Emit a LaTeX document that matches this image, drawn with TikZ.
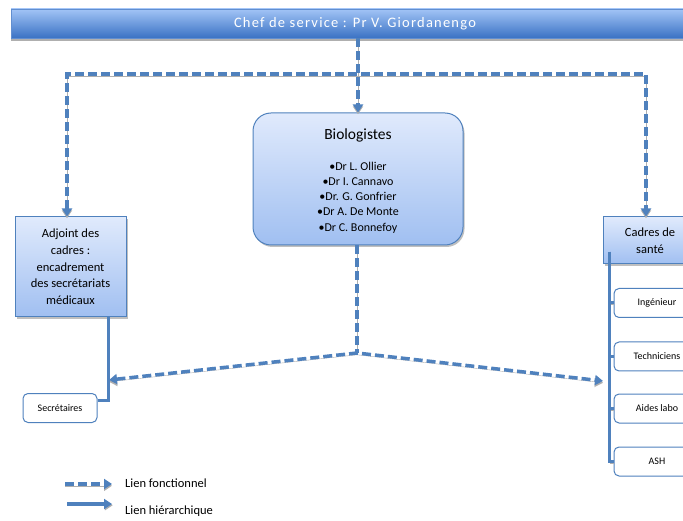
\documentclass[tikz,border=0pt]{standalone}
\usepackage{fontspec}
\setmainfont{Carlito}
\usetikzlibrary{arrows.meta,shadows}
\definecolor{lineblue}{RGB}{79,129,189}
\definecolor{boxtop}{RGB}{224,234,252}
\definecolor{boxbot}{RGB}{160,191,241}
\definecolor{bartop}{RGB}{162,196,246}
\definecolor{barbot}{RGB}{58,114,196}
\definecolor{shadowgray}{RGB}{175,175,175}
\tikzset{
  tip/.style={-{Triangle[length=8pt,width=10pt]}},
  fl/.style={draw=lineblue, line width=3.5pt, dash pattern=on 9pt off 4pt,
     preaction={draw=shadowgray, transform canvas={yshift=-1.8pt}}},
  hl/.style={draw=lineblue, line width=3pt,
     preaction={draw=shadowgray, transform canvas={xshift=0.8pt,yshift=-1.2pt}}},
  bar/.style={rectangle, minimum width=688pt, minimum height=29pt, inner sep=0pt,
     top color=bartop, bottom color=barbot, draw=barbot!80, line width=0.6pt,
     text=white, font=\fontsize{14.5}{16}\selectfont\addfontfeature{LetterSpace=8.5},
     drop shadow={shadow xshift=0pt, shadow yshift=-3pt, fill=shadowgray, opacity=1}},
  gbox/.style={rectangle, inner sep=0pt, top color=boxtop, bottom color=boxbot,
     draw=lineblue, line width=1pt, align=center,
     drop shadow={shadow xshift=1.5pt, shadow yshift=-2pt, fill=shadowgray, opacity=0.8}},
  wbox/.style={rectangle, rounded corners=5pt, inner sep=0pt, fill=white,
     draw=lineblue, line width=1pt, minimum height=29pt,
     font=\fontsize{10}{12}\selectfont},
  lbl/.style={inner sep=0pt, font=\fontsize{12.5}{14}\selectfont}
}
\begin{document}
\begin{tikzpicture}[x=1pt,y=-1pt]
\useasboundingbox (0,0) rectangle (683,521);

% title bar
\node[bar] (chef) at (355,23.5) {Chef de service : Pr V. Giordanengo};

% boxes
\node[gbox, rounded corners=18pt, minimum width=210pt, minimum height=132pt] (bio) at (358,179) {};
\node[inner sep=0pt, font=\fontsize{15.5}{17}\selectfont] (biotitle) at (358,135) {Biologistes};
\node[inner sep=0pt, align=center, font=\fontsize{12}{15.25}\selectfont] (biolist) at (358,197.5)
  {•Dr L. Ollier\\•Dr I. Cannavo\\•Dr. G. Gonfrier\\•Dr A. De Monte\\•Dr C. Bonnefoy};

\node[gbox, minimum width=111pt, minimum height=100pt, font=\fontsize{12.5}{16.7}\selectfont] (adj) at (70.5,267)
  {Adjoint des\\cadres :\\encadrement\\des secrétariats\\médicaux};

\node[gbox, minimum width=94pt, minimum height=47pt, font=\fontsize{12.5}{17}\selectfont] (cad) at (650,240.5)
  {Cadres de\\santé};

\node[wbox, minimum width=74pt] (sec) at (60,408) {Secrétaires};

\node[wbox, minimum width=86pt] (ing) at (657,303) {Ingénieur};
\node[wbox, minimum width=86pt] (tech) at (657,356.5) {Techniciens};
\node[wbox, minimum width=86pt] (aides) at (657,408.5) {Aides labo};
\node[wbox, minimum width=86pt] (ash) at (657,461.5) {ASH};

% functional links (dashed)
\coordinate (hl) at (67,74);
\coordinate (hr) at (646,74);
\coordinate (peak) at (357,353);
\coordinate (tipl) at (109,380);
\coordinate (tipr) at (603,381);

\draw[fl, tip] (bio.north |- chef.south) -- (bio.north);
\draw[fl, {Triangle[length=8pt,width=10pt]}-{Triangle[length=8pt,width=10pt]}]
  (hl |- adj.north) -- (hl) -- (hr) -- (hr |- cad.north);
\draw[fl] (bio.south -| peak) -- (peak);
\draw[fl, {Triangle[length=8pt,width=10pt]}-{Triangle[length=8pt,width=10pt]}]
  (tipl) -- (peak) -- (tipr);

% hierarchical links (solid)
\coordinate (adjout) at (108,317);
\draw[hl] (adjout) |- ([yshift=8pt]sec.east);
\coordinate (cadline) at (609,252);
\draw[hl] (cadline) |- (ing.west);
\draw[hl] (cadline) |- (tech.west);
\draw[hl] (cadline) |- (aides.west);
\draw[hl] (cadline) |- (ash.west);

% legend
\coordinate (lf1) at (65,484);
\coordinate (lf2) at (112,484);
\coordinate (lh1) at (67,504);
\coordinate (lh2) at (112,504);
\draw[fl, tip] (lf1) -- (lf2);
\draw[hl, line width=3.5pt, tip] (lh1) -- (lh2);
\node[lbl, anchor=west] (lftext) at (125,483) {Lien fonctionnel};
\node[lbl, anchor=west] (lhtext) at (125,511) {Lien hiérarchique};
\end{tikzpicture}
\end{document}
